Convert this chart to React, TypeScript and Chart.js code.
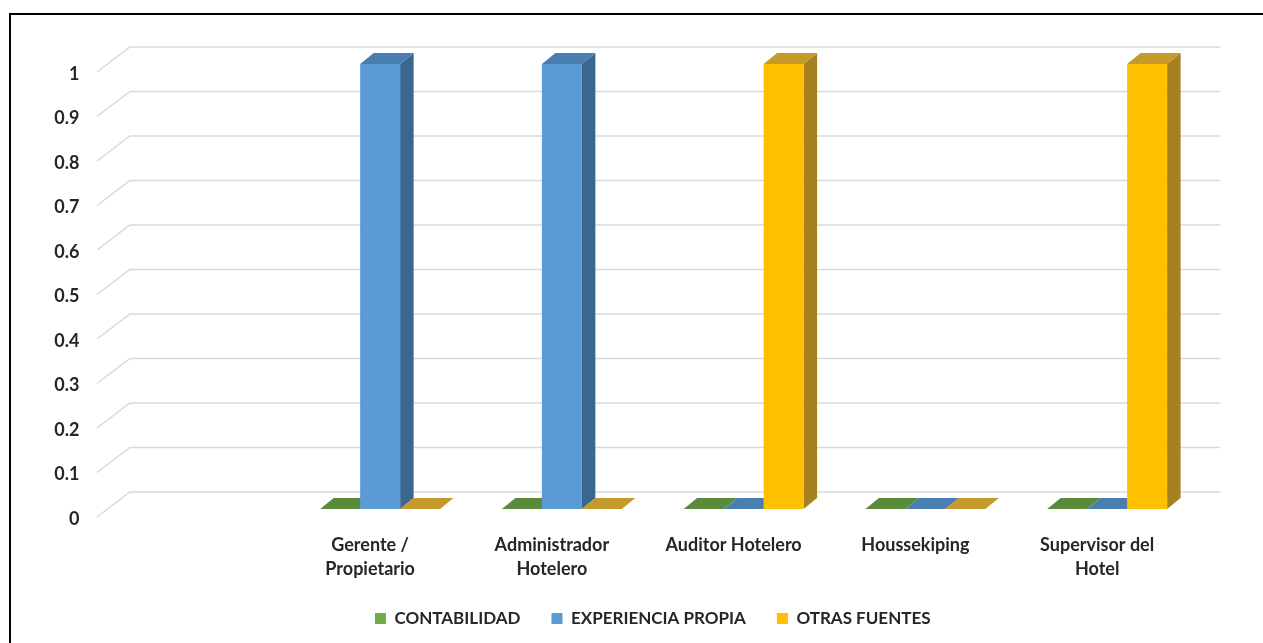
import React, { useEffect, useRef } from "react";
import { Chart, registerables } from "chart.js";

Chart.register(...registerables);

const categories: (string | string[])[] = [
  "",
  ["Gerente /", "Propietario"],
  ["Administrador", "Hotelero"],
  "Auditor Hotelero",
  "Houssekiping",
  ["Supervisor del", "Hotel"],
];
const contabilidad: (number | null)[] = [null, 0, 0, 0, 0, 0];
const experienciaPropia: (number | null)[] = [null, 1, 1, 0, 0, 0];
const otrasFuentes: (number | null)[] = [null, 0, 0, 1, 0, 1];
const seriesNames = ["CONTABILIDAD", "EXPERIENCIA PROPIA", "OTRAS FUENTES"];
const yTicks = [0, 0.1, 0.2, 0.3, 0.4, 0.5, 0.6, 0.7, 0.8, 0.9, 1];

const FRONT = ["#70AD47", "#5B9BD5", "#FFC000"];
const TOP = ["#5A8B3A", "#4A7EB0", "#C59A2A"];
const SIDE = ["#456B2C", "#3B6690", "#A5821F"];

const FONT = "Lato, 'Open Sans', sans-serif";

// depth offsets
const BAR_DX = 13.5;
const BAR_DY = 11;
const WALL_DX = 22.4; // from bar plane to back wall
const WALL_DY = 17;
const FRONT_DX = -10.5; // from bar plane to front axis plane
const FRONT_DY = 8;

const threeD = {
  id: "threeD",
  beforeDatasetsDraw(chart: any) {
    const ctx = chart.ctx;
    const area = chart.chartArea;
    const y = chart.scales.y;
    ctx.save();
    ctx.strokeStyle = "#D9D9D9";
    ctx.lineWidth = 1.5;
    yTicks.forEach((v) => {
      const py = y.getPixelForValue(v);
      ctx.beginPath();
      ctx.moveTo(area.left + FRONT_DX, py + FRONT_DY);
      ctx.lineTo(area.left + WALL_DX, py - WALL_DY);
      ctx.lineTo(area.right + WALL_DX, py - WALL_DY);
      ctx.stroke();
    });
    const n = chart.data.labels.length;
    for (let i = 0; i < n; i++) {
      chart.data.datasets.forEach((ds: any, di: number) => {
        const meta = chart.getDatasetMeta(di);
        const el: any = meta.data[i];
        if (!el || ds.data[i] === null || ds.data[i] === undefined) return;
        const left = el.x - el.width / 2;
        const right = el.x + el.width / 2;
        const top = Math.min(el.y, el.base);
        const bottom = Math.max(el.y, el.base);
        if (bottom - top > 0.5) {
          ctx.fillStyle = SIDE[di];
          ctx.beginPath();
          ctx.moveTo(right, top);
          ctx.lineTo(right + BAR_DX, top - BAR_DY);
          ctx.lineTo(right + BAR_DX, bottom - BAR_DY);
          ctx.lineTo(right, bottom);
          ctx.closePath();
          ctx.fill();
        }
        ctx.fillStyle = TOP[di];
        ctx.beginPath();
        ctx.moveTo(left, top);
        ctx.lineTo(right, top);
        ctx.lineTo(right + BAR_DX, top - BAR_DY);
        ctx.lineTo(left + BAR_DX, top - BAR_DY);
        ctx.closePath();
        ctx.fill();
      });
    }
    ctx.restore();
  },
};

export default function App() {
  const ref = useRef<HTMLCanvasElement | null>(null);
  useEffect(() => {
    if (!ref.current) return;
    const chart = new Chart(ref.current, {
      type: "bar",
      data: {
        labels: categories as any,
        datasets: [contabilidad, experienciaPropia, otrasFuentes].map((d, i) => ({
          label: seriesNames[i],
          data: d,
          backgroundColor: FRONT[i],
          borderWidth: 0,
          categoryPercentage: 0.66,
          barPercentage: 1,
        })),
      },
      options: {
        animation: false,
        responsive: false,
        maintainAspectRatio: false,
        layout: { padding: { top: 64, right: 65, left: 0, bottom: 6 } },
        plugins: {
          tooltip: { enabled: false },
          legend: {
            position: "bottom",
            fullSize: false,
            labels: {
              boxWidth: 11,
              boxHeight: 11,
              padding: 31,
              color: "#262626",
              font: { family: FONT, size: 17, weight: "bold" },
            },
          },
        },
        scales: {
          x: {
            grid: { display: false, drawTicks: false },
            border: { display: false },
            ticks: {
              padding: 24,
              labelOffset: -10,
              maxRotation: 0,
              autoSkip: false,
              color: "#262626",
              font: { family: FONT, size: 18, weight: "bold", lineHeight: 1.33 },
            },
            afterFit: (s: any) => {
              s.height = 70;
            },
          },
          y: {
            min: 0,
            max: 1,
            grid: { display: false, drawTicks: false },
            border: { display: false },
            afterBuildTicks: (s: any) => {
              s.ticks = yTicks.map((v) => ({ value: v }));
            },
            ticks: {
              padding: 28,
              labelOffset: 10,
              color: "#262626",
              font: { family: FONT, size: 18, weight: "bold" },
              callback: (v: any) => String(v),
            },
            afterFit: (s: any) => {
              s.width = 107.5;
            },
          },
        },
      },
      plugins: [threeD],
    });
    return () => chart.destroy();
  }, []);
  return (
    <>
      <canvas
        ref={ref}
        width={1263}
        height={643}
        style={{ position: "fixed", left: 0, top: 0, width: 1263, height: 643 }}
      />
      <div
        style={{
          position: "fixed",
          left: 9,
          top: 13,
          right: 0,
          bottom: 0,
          borderLeft: "2.5px solid #000",
          borderTop: "2.5px solid #000",
          pointerEvents: "none",
        }}
      />
    </>
  );
}
